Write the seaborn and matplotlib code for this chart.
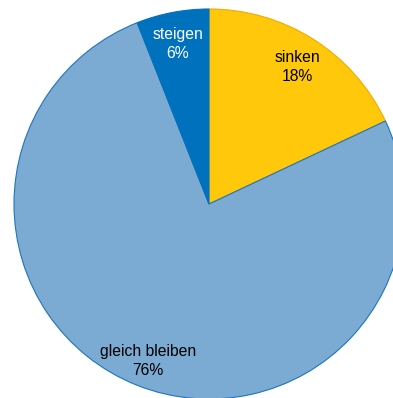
import matplotlib
matplotlib.use("Agg")
import matplotlib.pyplot as plt
import matplotlib.transforms as mtransforms
import seaborn as sns

# Survey answers (share in percent), clockwise from 12 o'clock
categories = ["sinken", "gleich bleiben", "steigen"]
shares = [18, 76, 6]
colors = ["#FFC80A", "#7BAAD3", "#0071BC"]
edge_colors = ["#F2A900", "#1C75BF", "#0071BC"]
text_colors = ["black", "black", "white"]

sns.set_theme(style="white")
plt.rcParams["font.family"] = ["Liberation Sans", "DejaVu Sans"]

fig = plt.figure(figsize=(3.93, 3.98), dpi=100)
# the pie is slightly larger than the canvas on the right and bottom
ax = fig.add_axes([14 / 393, -1 / 398, 390 / 393, 390 / 398])

labels = [f"{c}\n{v}%" for c, v in zip(categories, shares)]
wedges, texts = ax.pie(
    shares,
    labels=labels,
    colors=colors,
    startangle=90,
    counterclock=False,
    labeldistance=0.85,
    wedgeprops=dict(linewidth=0.8),
    textprops=dict(fontsize=11.3),
)
for w, ec in zip(wedges, edge_colors):
    w.set_edgecolor(ec)

# nudge labels a few pixels down, like the original
shift = mtransforms.offset_copy(ax.transData, fig=fig, x=0, y=-3, units="dots")
for t, tc in zip(texts, text_colors):
    t.set_ha("center")
    t.set_va("center")
    t.set_color(tc)
    t.set_linespacing(1.3)
    t.set_transform(shift)

ax.set_xlim(-1, 1)
ax.set_ylim(-1, 1)
ax.set_axis_off()

fig.savefig("out.png", dpi=100)
